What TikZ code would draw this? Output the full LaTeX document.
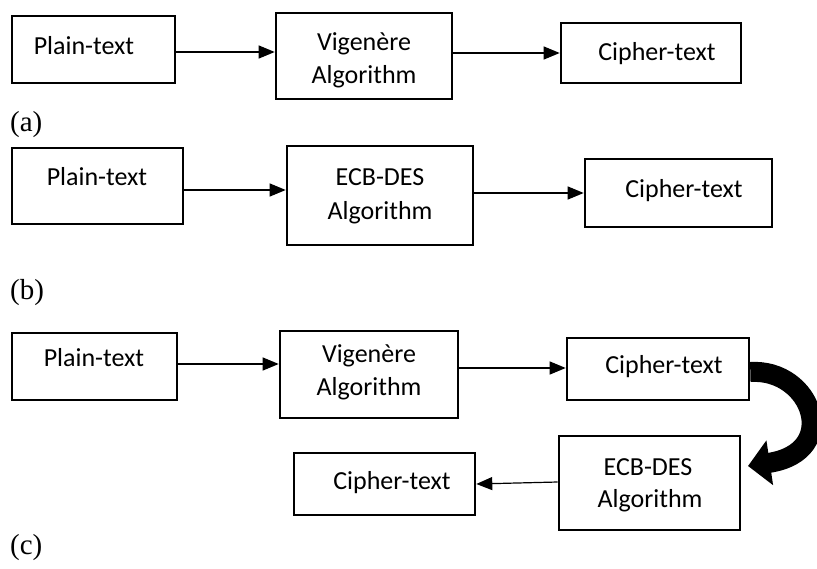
\documentclass[tikz,border=0pt]{standalone}
\usepackage{fontspec}
\setmainfont{Carlito}
\newfontfamily\labelfont{Liberation Serif}
\usetikzlibrary{arrows.meta}
\begin{document}
\begin{tikzpicture}[x=1pt,y=-1pt,
  box/.style 2 args={draw, line width=2.6pt, inner sep=0pt, minimum width=#1, minimum height=#2},
  txt/.style={inner sep=0pt, anchor=base, font=\fontsize{26}{31}\selectfont},
  lbl/.style={inner sep=0pt, anchor=west, font=\labelfont\fontsize{29}{34}\selectfont},
  conn/.style={line width=1.2pt, -{Triangle[length=16pt,width=13pt]}},
  bigarrow/.style={line width=20pt, -{Triangle[length=22pt,width=44pt]}}]
\useasboundingbox (0,0) rectangle (817,568);

% ---- (a)
\node[box={163}{67}] (pa) at (93.5,49.5) {};
\node[txt] (pat) at (84,54) {Plain-text};
\node[box={176}{86}] (va) at (364,56) {};
\node[txt] (vat1) at (364,50) {Vigenère};
\node[txt] (vat2) at (364,83) {Algorithm};
\node[box={180}{60}] (ca) at (651,53) {};
\node[txt] (cat) at (657,60) {Cipher-text};
\draw[conn] (pa.east |- 0,52) -- (va.west |- 0,52);
\draw[conn] (va.east |- 0,53) -- (ca.west |- 0,53);
\node[lbl] (la) at (10,125) {(a)};

% ---- (b)
\node[box={171}{76}] (pb) at (97.5,186) {};
\node[txt] (pbt) at (97,185) {Plain-text};
\node[box={186}{99}] (eb) at (380,195.5) {};
\node[txt] (ebt1) at (380,185) {ECB-DES};
\node[txt] (ebt2) at (380,219) {Algorithm};
\node[box={187}{68}] (cb) at (678.5,193) {};
\node[txt] (cbt) at (684,197) {Cipher-text};
\draw[conn] (pb.east |- 0,190) -- (eb.west |- 0,190);
\draw[conn] (eb.east |- 0,193) -- (cb.west |- 0,193);
\node[lbl] (lb) at (10,293) {(b)};

% ---- (c)
\node[box={165}{67}] (pc) at (94.5,366.5) {};
\node[txt] (pct) at (94,366) {Plain-text};
\node[box={178}{87}] (vc) at (369,374.5) {};
\node[txt] (vct1) at (369,362) {Vigenère};
\node[txt] (vct2) at (369,395) {Algorithm};
\node[box={182}{62}] (cc) at (658,369) {};
\node[txt] (cct) at (664,373) {Cipher-text};
\draw[conn] (pc.east |- 0,364) -- (vc.west |- 0,364);
\draw[conn] (vc.east |- 0,368) -- (cc.west |- 0,368);

\node[box={181}{94}] (ec) at (649.5,483) {};
\node[txt] (ect1) at (648,475) {ECB-DES};
\node[txt] (ect2) at (650,507) {Algorithm};
\node[box={181}{62}] (lc) at (384.5,484) {};
\node[txt] (lct) at (392,489) {Cipher-text};
\draw[conn] (ec.west |- 0,482) -- (lc.east |- 0,484);

\coordinate (tip) at (748,466);
\draw[bigarrow] (cc.east |- 0,372) .. controls (812,368) and (842,452) .. (tip);
\node[lbl] (lcl) at (10,548) {(c)};
\end{tikzpicture}
\end{document}
